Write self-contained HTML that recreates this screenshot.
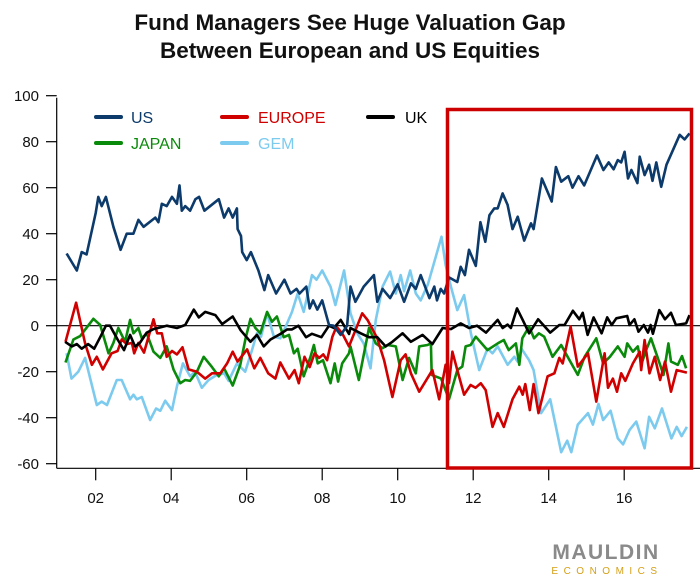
<!DOCTYPE html>
<html><head><meta charset="utf-8">
<style>
body{margin:0;background:#fff;}
svg{display:block;font-family:"Liberation Sans","DejaVu Sans",sans-serif;}
</style></head>
<body>
<svg id="chart" width="700" height="581" viewBox="0 0 700 581">
<text x="350" y="30" text-anchor="middle" font-size="22.5" font-weight="bold" fill="#111">Fund Managers See Huge Valuation Gap</text>
<text x="350" y="58" text-anchor="middle" font-size="22.5" font-weight="bold" fill="#111">Between European and US Equities</text>
<g id="axes"></g>
<g id="series"></g>
<rect x="447.5" y="109.5" width="244" height="358.5" fill="none" stroke="#cc0000" stroke-width="3.5"/>
<g>
 <g><line x1="96" y1="117" x2="121" y2="117" stroke="#0b3a6b" stroke-width="4" stroke-linecap="round"/><text x="131" y="123" font-size="16" fill="#0b3a6b">US</text></g>
 <g><line x1="222" y1="117" x2="247" y2="117" stroke="#d00000" stroke-width="4" stroke-linecap="round"/><text x="258" y="123" font-size="16" fill="#d00000">EUROPE</text></g>
 <g><line x1="368" y1="117" x2="393" y2="117" stroke="#000" stroke-width="4" stroke-linecap="round"/><text x="405" y="123" font-size="16" fill="#000">UK</text></g>
 <g><line x1="96" y1="143" x2="121" y2="143" stroke="#0a8a0a" stroke-width="4" stroke-linecap="round"/><text x="131" y="149" font-size="16" fill="#0a8a0a">JAPAN</text></g>
 <g><line x1="222" y1="143" x2="247" y2="143" stroke="#7ccbef" stroke-width="4" stroke-linecap="round"/><text x="258" y="149" font-size="16" fill="#7ccbef">GEM</text></g>
</g>
<g>
 <text x="606" y="559" text-anchor="middle" font-size="21" font-weight="bold" fill="#8a8a8a" letter-spacing="1.5">MAULDIN</text>
 <text x="607" y="574" text-anchor="middle" font-size="10" fill="#d4a017" letter-spacing="5.5">ECONOMICS</text>
</g>
</svg>
<script>
const yTicks=[100,80,60,40,20,0,-20,-40,-60];
const xTickYears=[2002,2004,2006,2008,2010,2012,2014,2016];
const xTickLabels=["02","04","06","08","10","12","14","16"];

const usX=[2001.23,2001.5,2001.63,2001.76,2002,2002.07,2002.16,2002.27,2002.47,2002.66,2002.82,2003,2003.13,2003.27,2003.58,2003.66,2003.75,2003.88,2004.02,2004.15,2004.22,2004.28,2004.37,2004.5,2004.64,2004.74,2004.88,2005.26,2005.4,2005.52,2005.63,2005.74,2005.76,2005.85,2005.88,2006,2006.11,2006.31,2006.47,2006.57,2006.78,2007,2007.16,2007.32,2007.4,2007.58,2007.67,2007.76,2007.87,2008,2008.18,2008.3,2008.49,2008.66,2008.75,2008.88,2009.1,2009.37,2009.46,2009.6,2009.8,2010,2010.17,2010.35,2010.48,2010.61,2010.84,2010.97,2011.04,2011.14,2011.23,2011.36,2011.58,2011.67,2011.78,2011.89,2012.07,2012.19,2012.32,2012.43,2012.56,2012.65,2012.78,2012.91,2013.04,2013.18,2013.35,2013.53,2013.6,2013.82,2014.08,2014.19,2014.33,2014.52,2014.63,2014.79,2014.94,2015.28,2015.45,2015.59,2015.72,2015.83,2015.92,2016.01,2016.1,2016.19,2016.35,2016.41,2016.54,2016.66,2016.75,2016.85,2016.98,2017.12,2017.47,2017.6,2017.73];
const usY=[31.4,24,32,31,49,56,52,56,43,33,40,40,46,43,47,45,53,52,56,53,61,50,52,50,55,56,50,55,47,51,47,51,42,39,32,28.5,32,24,15.5,22,14,20,14,16,14,17,7.5,11,7,11,0.3,0,-4,0,17,10.4,17,22,10.4,16,12,18,10.4,18.4,16,22,12,17,11,16,14,21,19,25.6,22,33,26,45,36.5,48,51,51,57.5,52.5,42,47.4,37,44.5,42,64,54,69,62.6,65,60,65,61,74,67.7,71,68,72,71,75.6,64,67.7,62,73.5,65.5,70,63,71,60.4,70,83,81,83.6];

const ukX=[2001.19,2001.37,2001.5,2001.63,2001.8,2001.96,2002.12,2002.27,2002.38,2002.58,2002.75,2002.91,2003.04,2003.17,2003.35,2003.53,2003.88,2004.15,2004.37,2004.6,2004.73,2004.9,2005.17,2005.35,2005.63,2005.84,2006.1,2006.27,2006.45,2006.63,2006.89,2007.07,2007.2,2007.37,2007.57,2007.73,2007.98,2008.18,2008.31,2008.49,2008.71,2008.75,2009.02,2009.24,2009.46,2009.68,2009.86,2010.13,2010.35,2010.66,2010.92,2011.19,2011.41,2011.67,2011.89,2012.1,2012.34,2012.65,2012.78,2012.91,2013,2013.16,2013.31,2013.48,2013.72,2014.04,2014.28,2014.42,2014.64,2014.81,2014.9,2015.03,2015.19,2015.4,2015.55,2015.67,2015.79,2016.08,2016.14,2016.27,2016.38,2016.52,2016.63,2016.7,2016.76,2016.93,2017.08,2017.24,2017.37,2017.64,2017.73];
const ukY=[-7,-9,-8,-10,-8,-10,-5,0,0,-6,-10.6,-4,-9,-7.5,-3,-1.5,0,-1,0.3,7,3.6,6,4.6,0.7,4,-2,-7,-4,-9,-6,-3.6,-1.6,-1.6,0,-5,-3.5,-5,0,-1,2.5,-3.6,-1,-3.3,-5,-5,-9,-7,-3.3,-7,-4,-8,-1,-1.5,1,-1,0,-3,2.5,-1,0.5,-1,7.5,2.5,-3.3,2.8,-3,0.3,0.3,6.5,2.8,5.6,-4,3.6,-3.3,3.6,0.3,3.2,4.2,0.3,2.8,-2.6,0.3,-3,0.3,-3.5,6.8,2.8,5.6,0.3,1,4.6];

const euX=[2001.2,2001.48,2001.72,2001.9,2002.03,2002.19,2002.42,2002.58,2002.69,2002.82,2002.96,2003.02,2003.13,2003.28,2003.53,2003.63,2003.75,2003.88,2004.02,2004.15,2004.3,2004.46,2004.68,2004.9,2005.08,2005.3,2005.48,2005.63,2005.76,2006.01,2006.2,2006.36,2006.57,2006.76,2006.89,2007.12,2007.27,2007.38,2007.53,2007.67,2007.8,2007.92,2008.03,2008.13,2008.27,2008.38,2008.53,2008.71,2009.06,2009.2,2009.46,2009.64,2009.86,2010.08,2010.21,2010.35,2010.57,2010.92,2011.1,2011.27,2011.36,2011.45,2011.58,2011.76,2011.93,2012.06,2012.2,2012.33,2012.51,2012.65,2012.81,2013.04,2013.22,2013.31,2013.38,2013.5,2013.6,2013.73,2013.97,2014.15,2014.28,2014.37,2014.58,2014.77,2015.04,2015.26,2015.48,2015.57,2015.7,2015.81,2015.92,2016.03,2016.23,2016.41,2016.45,2016.54,2016.67,2016.81,2016.95,2017.08,2017.24,2017.39,2017.66];
const euY=[-7,10,-7.7,-17,-13.5,-19,-12,-11,-6,-8,-7.5,-12,-7.5,-11.7,2.8,-3.3,-3.3,-13.5,-11,-12.5,-9.4,-19,-20,-23,-20.7,-20.7,-16.4,-11.3,-15.6,-10.3,-18.5,-14,-20.7,-23,-16,-23,-19.3,-25,-13.5,-18,-12,-14,-12.5,-15,-4.8,-0.4,-3.3,-9,5.4,2.5,-5.5,-15,-31,-15,-12.5,-20.7,-28.7,-19.3,-32,-17,-25,-11.3,-19.3,-30,-25.8,-27,-25,-28,-44,-38,-44,-32,-26.5,-30,-25.4,-36.7,-25.4,-38,-22,-20.7,-14,-16.4,-0.4,-17.8,-12,-33,-12,-27,-23,-28.7,-20.7,-24,-16.4,-11.3,-19.3,-6.2,-20.7,-13.5,-23.6,-15.6,-28.7,-19.3,-20.4];

const jpX=[2001.2,2001.41,2001.59,2001.94,2002.12,2002.34,2002.47,2002.6,2002.78,2002.91,2003,2003.13,2003.22,2003.35,2003.53,2003.71,2003.88,2004.06,2004.24,2004.37,2004.5,2004.68,2004.86,2005.08,2005.26,2005.4,2005.63,2005.83,2005.97,2006.1,2006.23,2006.36,2006.54,2006.67,2006.8,2006.98,2007.12,2007.25,2007.35,2007.51,2007.69,2007.78,2007.88,2008.02,2008.22,2008.33,2008.42,2008.53,2008.71,2008.75,2008.97,2009.24,2009.42,2009.6,2009.73,2009.95,2010.13,2010.3,2010.48,2010.57,2010.79,2010.88,2010.9,2011.15,2011.36,2011.58,2011.71,2011.8,2011.93,2012.07,2012.38,2012.65,2012.81,2012.94,2013.13,2013.22,2013.3,2013.48,2013.61,2013.74,2013.88,2014.1,2014.33,2014.5,2014.77,2014.95,2015.26,2015.44,2015.62,2015.83,2016.01,2016.08,2016.23,2016.36,2016.45,2016.58,2016.71,2016.88,2017.04,2017.17,2017.24,2017.42,2017.53,2017.64];
const jpY=[-16,-6,-4.5,3,0.3,-12,-7.5,-1,-7,2.5,-3.3,-1,-5.5,-3.3,-11.3,-14,-9,-19,-25,-23.6,-24,-20,-13.5,-18,-22,-18.5,-26,-17,-5.5,3,-1,-3.3,6,1.7,4,-5,-4,-12,-10,-22,-13.5,-8.4,-16.4,-15,-25,-16.4,-24.3,-16.4,-12,-9,-23.6,-1,-7.7,-9.8,-8.4,-9,-23.6,-14,-20.7,-9,-8.4,-7.7,-21.4,-23,-32,-19.3,-17.8,-9,-8.4,-4.8,-10.6,-7.7,-6.2,-10.6,-7.7,-17,-5.5,-0.4,-5.5,-3.3,-4.8,-13.5,-8.4,-13.5,-21.4,-13.5,-5.5,-16.4,-13.5,-9,-13.5,-7.7,-11.3,-9,-17,-10.6,-5.5,-13.5,-21.4,-7.7,-15.6,-17,-13.2,-18.5];

const gmX=[2001.23,2001.36,2001.54,2001.72,2002.03,2002.16,2002.3,2002.56,2002.69,2002.91,2003,2003.09,2003.22,2003.44,2003.6,2003.71,2003.84,2004.02,2004.15,2004.31,2004.5,2004.63,2004.81,2004.99,2005.21,2005.4,2005.52,2005.74,2005.96,2006.14,2006.27,2006.38,2006.54,2006.72,2006.89,2007.07,2007.2,2007.35,2007.51,2007.73,2007.85,2008,2008.22,2008.35,2008.58,2008.75,2008.93,2009.1,2009.28,2009.42,2009.6,2009.8,2009.95,2010.08,2010.17,2010.33,2010.48,2010.61,2010.8,2011.01,2011.16,2011.27,2011.41,2011.58,2011.76,2011.94,2012.16,2012.38,2012.51,2012.65,2012.91,2013.09,2013.18,2013.28,2013.48,2013.6,2013.8,2014.04,2014.33,2014.49,2014.6,2014.77,2015.04,2015.17,2015.32,2015.44,2015.64,2015.83,2015.97,2016.14,2016.32,2016.54,2016.66,2016.81,2017,2017.25,2017.39,2017.52,2017.66];
const gmY=[-12,-23,-20,-14,-34.5,-33,-34.5,-23.6,-23.6,-32,-30,-32,-31,-41,-36,-37,-32.6,-36.7,-26.5,-16.4,-22,-20,-27,-23.6,-21.4,-20.7,-24,-16.4,-20,-10.6,-3.3,-4.8,5.4,-4.8,-5.5,1,6,14,6,22,20,24,17,9,24,5.4,-3.3,-7.7,-18.5,2.5,17,23.5,14,22,15,24,14,11,18,30,38.7,26.4,17,6.8,13.3,-3.3,-19.3,-10,-12,-9,-17,-13.5,-15.6,-10,-15,-19.3,-38,-32,-55,-50,-55,-43,-38,-43,-34,-41,-37,-49,-51.6,-45.4,-41.7,-53.3,-39.6,-44.6,-36,-49,-44,-48,-44];

const NS="http://www.w3.org/2000/svg";
const X0=58,X1=692,YT=97.7,YB=468.3;
function xs(yr){return 95.7+(yr-2002)*37.75;}
function ys(v){return 325.7-v*2.3;}

const axes=document.getElementById('axes');
function mk(tag,attrs,parent){const e=document.createElementNS(NS,tag);for(const k in attrs)e.setAttribute(k,attrs[k]);parent.appendChild(e);return e;}

const yAxis=mk('line',{x1:56.7,y1:YT,x2:56.7,y2:YB,stroke:'#000','stroke-width':1.2},axes);


const xAxis=mk('line',{x1:56.7,y1:YB,x2:X1+8,y2:YB,stroke:'#000','stroke-width':1.2},axes);


const zero=mk('line',{x1:56.7,y1:ys(0),x2:700,y2:ys(0),stroke:'#000','stroke-width':1.2},axes);



yTicks.forEach(v=>{
  const t=mk('line',{x1:46,y1:ys(v),x2:56.7,y2:ys(v),stroke:'#000','stroke-width':1.2},axes);
  
  
  const l=mk('text',{x:39,y:ys(v)+5.5,'text-anchor':'end','font-size':15,fill:'#111'},axes);
  l.textContent=String(v);
  
  
});
xTickYears.forEach((yr,i)=>{
  const t=mk('line',{x1:xs(yr),y1:YB,x2:xs(yr),y2:YB+12,stroke:'#000','stroke-width':1.2},axes);
  
  
  const l=mk('text',{x:xs(yr),y:503,'text-anchor':'middle','font-size':15,fill:'#111'},axes);
  l.textContent=xTickLabels[i];
  
  
});

const sg=document.getElementById('series');
function drawLine(xArr,yArr,color,name){
  const d=xArr.map((x,i)=>(i?'L':'M')+xs(x).toFixed(1)+','+ys(yArr[i]).toFixed(1)).join('');
  const p=mk('path',{d:d,fill:'none',stroke:color,'stroke-width':2.6,'stroke-linejoin':'round'},sg);
  
  
}
drawLine(gmX,gmY,'#7ccbef','gem-line');
drawLine(jpX,jpY,'#0a8a0a','japan-line');
drawLine(euX,euY,'#d00000','europe-line');
drawLine(ukX,ukY,'#000000','uk-line');
drawLine(usX,usY,'#0b3a6b','us-line');
</script>
</body></html>
